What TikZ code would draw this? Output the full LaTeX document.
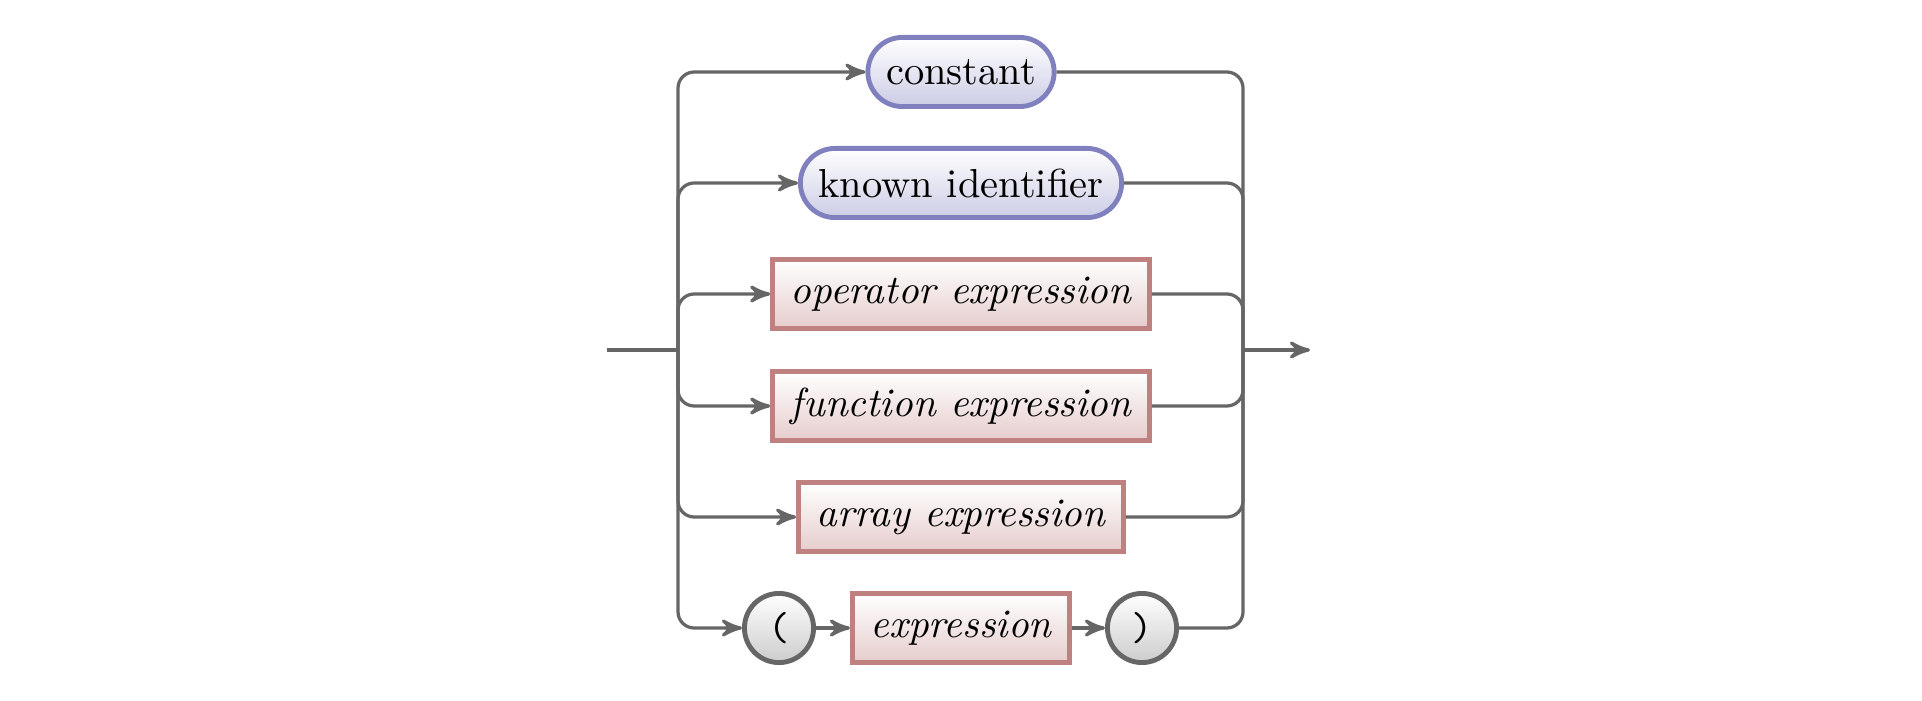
\documentclass[tikz,border=0pt]{standalone}
\usetikzlibrary{arrows}
\begin{document}
\begin{tikzpicture}[x=0.2469pt,y=-0.2469pt,>=stealth',
  nonterm/.style={rectangle, minimum size=6mm, inner xsep=4.5pt, very thick, draw=red!50!black!50,
    top color=white, bottom color=red!50!black!20, font=\itshape},
  term/.style={rectangle, rounded corners=3mm, minimum size=6mm, inner xsep=4.5pt, very thick,
    draw=blue!50!black!50, top color=white, bottom color=blue!50!black!20},
  paren/.style={circle, minimum size=6mm, inner sep=2pt, very thick, draw=black!60,
    top color=white, bottom color=black!20, font=\ttfamily},
  conn/.style={thick, draw=black!60, rounded corners=4pt}]
\useasboundingbox (0,0) rectangle (1922,701);
\node[term] (const) at (961,72) {constant};
\node[term] (kid) at (961,183) {known identifier};
\node[nonterm] (opex) at (961,294) {operator expression};
\node[nonterm] (funex) at (961,406) {function expression};
\node[nonterm] (arrex) at (961,517) {array expression};
\node[nonterm] (expr) at (961,628) {expression};
\node[paren] (lp) at (779,628) {(};
\node[paren] (rp) at (1142,628) {)};
\coordinate (start) at (607,350);
\coordinate (split) at (678,350);
\coordinate (join) at (1243,350);
\coordinate (end) at (1310,350);
\draw[conn] (start) -- (split);
\foreach \n in {const,kid,opex,funex,arrex,lp}
  \draw[conn,->] (split) |- (\n);
\foreach \n in {const,kid,opex,funex,arrex,rp}
  \draw[conn] (\n) -| (join);
\draw[conn,->] (lp) -- (expr);
\draw[conn,->] (expr) -- (rp);
\draw[conn,->] (join) -- (end);
\end{tikzpicture}
\end{document}
